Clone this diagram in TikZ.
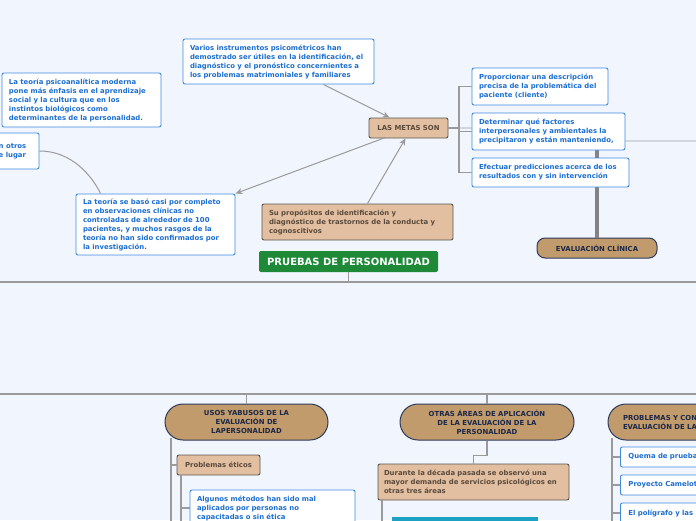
\documentclass[tikz,border=0pt]{standalone}
\usepackage{fontspec}
\setmainfont{DejaVu Sans}
\usetikzlibrary{calc,arrows.meta}
\definecolor{bg}{HTML}{F1F5FE}
\definecolor{bluebd}{HTML}{3F8AE0}
\definecolor{bluetx}{HTML}{1C6ED2}
\definecolor{tanfill}{HTML}{E2BFA0}
\definecolor{tanbd}{HTML}{5C5650}
\definecolor{tantx}{HTML}{5A4A3C}
\definecolor{pillfill}{HTML}{C19B6C}
\definecolor{pillbd}{HTML}{2C3A5C}
\definecolor{pilltx}{HTML}{1B2748}
\definecolor{green}{HTML}{1E8A38}
\definecolor{conn}{HTML}{9A9A9A}
\definecolor{faint}{HTML}{D2D6E0}
\definecolor{teal}{HTML}{1BA1C4}
\newcommand{\tf}{\fontsize{6.9}{9}\selectfont\bfseries}
\tikzset{
  tbox/.style={draw=bluebd, fill=white, rounded corners=2pt, line width=0.9pt, text=bluetx, font=\tf, align=left, inner sep=0pt},
  tanbox/.style={draw=tanbd, fill=tanfill, rounded corners=2pt, line width=0.9pt, text=tantx, font=\tf, align=left, inner sep=0pt},
  pill/.style={draw=pillbd, fill=pillfill, line width=1pt, text=pilltx, font=\tf, align=center, inner sep=0pt},
  cn/.style={draw=conn, line width=1.8pt},
  hl/.style={draw=conn, line width=1.4pt},
  arr/.style={draw=conn, line width=1pt, -{Stealth[length=7pt,width=6pt]}},
}
\begin{document}
\begin{tikzpicture}[x=1pt,y=-1pt]
\useasboundingbox (0,0) rectangle (696,520);
\clip (0,0) rectangle (696,520);
\fill[bg] (0,0) rectangle (696,520);

% coordinates for long lines
\coordinate (l1a) at (-10,282);
\coordinate (l1b) at (706,282);
\coordinate (l2a) at (-10,394);
\coordinate (l2b) at (706,394);
\coordinate (fr) at (706,141);

% horizontal frame lines
\draw[hl] (l1a) -- (l1b);
\draw[hl] (l2a) -- (l2b);

% nodes (top area)
\node[tbox, minimum width=191pt, minimum height=45pt, text width=177pt] (varios) at (278.5,61.5)
 {Varios instrumentos psicométricos han\\demostrado ser útiles en la identificación, el\\diagnóstico y el pronóstico concernientes a\\los problemas matrimoniales y familiares};
\node[tbox, minimum width=159pt, minimum height=54pt, text width=145pt] (psico) at (81.5,100)
 {La teoría psicoanalítica moderna\\pone más énfasis en el aprendizaje\\social y la cultura que en los\\instintos biológicos como\\determinantes de la personalidad.};
\node[tbox, minimum width=139pt, minimum height=36pt] (otros) at (-30.5,151) {};
\node[anchor=west, font=\tf, text=bluetx, align=left, inner sep=0pt] (otrostx) at (-1.5,151) {n otros\\e lugar};
\node[tbox, minimum width=159pt, minimum height=61pt, text width=145pt] (basado) at (155.5,224.5)
 {La teoría se basó casi por completo\\en observaciones clínicas no\\controladas de alrededor de 100\\pacientes, y muchos rasgos de la\\teoría no han sido confirmados por\\la investigación.};
\node[tanbox, minimum width=79pt, minimum height=20pt] (metas) at (408.5,128) {LAS METAS SON};
\node[tanbox, minimum width=191pt, minimum height=36pt, text width=177pt] (prop) at (357.5,222)
 {Su propósitos de identificación y\\diagnóstico de trastornos de la conducta y\\cognoscitivos};
\node[fill=green, rounded corners=2pt, text=white, font=\fontsize{10}{11}\selectfont\bfseries, minimum width=179pt, minimum height=21pt, inner sep=0pt] (pruebas) at (348.5,261.5) {PRUEBAS DE PERSONALIDAD};

% faint line and thick vertical to evaluacion clinica
\node[pill, rounded corners=8pt, minimum width=120pt, minimum height=20pt] (eval) at (597,248) {EVALUACIÓN CLÍNICA};
\draw[faint, line width=1.8pt] (metas.east) -- (472,128);
\draw[faint, line width=1.8pt] (625,141) -- (fr);
\draw[draw=conn!85!black, line width=3.5pt] (eval.north) -- (597,150);

% right bracket boxes
\node[tbox, minimum width=136pt, minimum height=37pt, text width=122pt] (desc) at (540,86.5)
 {Proporcionar una descripción\\precisa de la problemática del\\paciente (cliente)};
\node[tbox, minimum width=153pt, minimum height=37pt, text width=139pt] (det) at (548.5,131.5)
 {Determinar qué factores\\interpersonales y ambientales la\\precipitaron y están manteniendo,};
\node[tbox, minimum width=157pt, minimum height=29pt, text width=143pt] (efe) at (550.5,172.5)
 {Efectuar predicciones acerca de los\\resultados con y sin intervención};
\draw[cn] (metas.east) -- (459,128);
\draw[cn] (459,128) |- (desc.west);
\draw[cn] (459,128) |- (det.west);
\draw[cn] (459,128) |- (efe.west);

% arrows around LAS METAS SON
\draw[arr] ($(varios.south)+(45,0)$) -- ($(metas.north)+(-19,0)$);
\draw[arr] ($(prop.north)+(10,0)$) -- ($(metas.south)+(-3,0)$);
\draw[arr] ($(metas.south)+(-23,-1)$) -- (basado.north east);
\draw[draw=conn, line width=1pt] (otros.east) .. controls (72,151) and (92,176) .. ($(basado.north west)+(25,0)$);

% trunk from main node
\draw[hl] (pruebas.south) -- (348.5,282);

% bottom pills
\node[pill, rounded corners=18pt, minimum width=163pt, minimum height=36pt] (usos) at (246.5,422)
 {USOS YABUSOS DE LA\\EVALUACIÓN DE\\LAPERSONALIDAD};
\node[pill, rounded corners=18pt, minimum width=174pt, minimum height=36pt] (otras) at (487,422)
 {OTRAS ÁREAS DE APLICACIÓN\\DE LA EVALUACIÓN DE LA\\PERSONALIDAD};
\node[pill, rounded corners=18pt, minimum width=180pt, minimum height=36pt, align=left, text width=150pt] (probl) at (698,422)
 {PROBLEMAS Y CONTROVERSIAS EN LA\\EVALUACIÓN DE LA PERSONALIDAD};
\draw[hl] (usos.north) -- (246.5,394);
\draw[hl] (otras.north) -- (487,394);
\draw[hl] (probl.north) -- (698,394);

% USOS branch
\node[tanbox, minimum width=83pt, minimum height=20pt] (etico) at (218.5,465) {Problemas éticos};
\node[tbox, minimum width=165pt, minimum height=36pt, text width=151pt] (algunos) at (272.5,508)
 {Algunos métodos han sido mal\\aplicados por personas no\\capacitadas o sin ética};
\coordinate (u1) at (171,530);
\coordinate (u2) at (181,530);
\draw[cn] (171,438) -- (u1);
\draw[cn] (171,465) -- (etico.west);
\draw[cn] (181,475) -- (u2);
\draw[cn] (181,508) -- (algunos.west);

% OTRAS branch
\node[tanbox, minimum width=191pt, minimum height=36pt, text width=179pt] (durante) at (473.5,482)
 {Durante la década pasada se observó una\\mayor demanda de servicios psicológicos en\\otras tres áreas};
\node[fill=teal, minimum width=146pt, minimum height=20pt, inner sep=0pt] (tealb) at (465,527) {};
\draw[cn] (otras.south) -- ++(0,15) -| (durante.north);
\draw[cn] (382,500) |- (tealb.west);

% PROBLEMAS branch
\node[tbox, anchor=west, minimum width=160pt, minimum height=20pt, text width=144pt] (quema) at (620,457) {Quema de pruebas};
\node[tbox, anchor=west, minimum width=160pt, minimum height=20pt, text width=144pt] (camelot) at (620,485) {Proyecto Camelot};
\node[tbox, anchor=west, minimum width=160pt, minimum height=20pt, text width=144pt] (poli) at (620,513) {El polígrafo y las};
\coordinate (p1) at (612,530);
\draw[cn] (612,438) -- (p1);
\draw[cn] (612,457) -- (quema.west);
\draw[cn] (612,485) -- (camelot.west);
\draw[cn] (612,513) -- (poli.west);
\end{tikzpicture}
\end{document}
